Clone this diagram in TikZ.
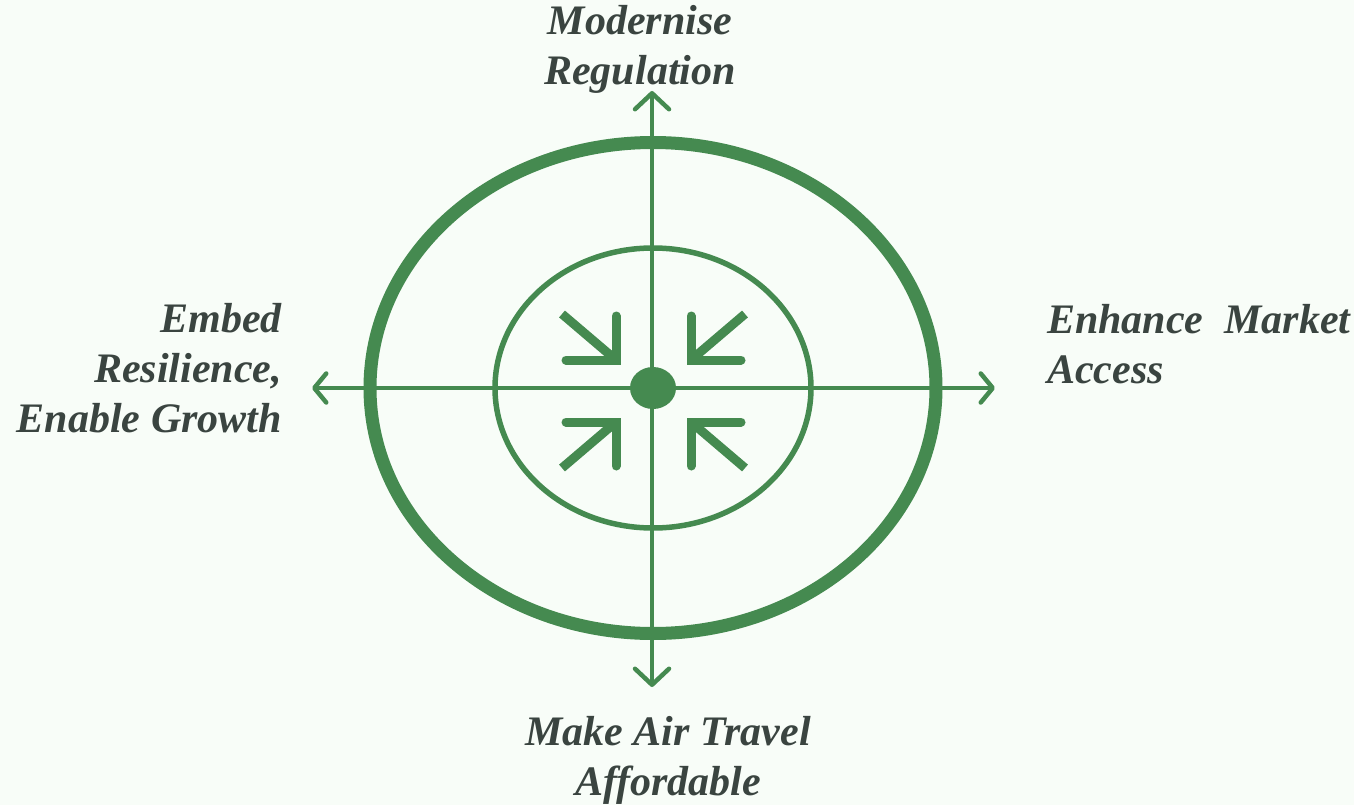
\documentclass[tikz,border=0pt]{standalone}
\usepackage{fontspec}
\setmainfont{Liberation Serif}
\usetikzlibrary{arrows.meta}
\definecolor{gr}{HTML}{458A50}
\definecolor{txt}{HTML}{3A4440}
\definecolor{bgc}{HTML}{F8FDF8}
\tikzset{
  vhead/.tip={Straight Barb[length=16pt,width=34pt,line cap=round,line join=round]},
  hhead/.tip={Straight Barb[length=12pt,width=29pt,line cap=round,line join=round]}}
\begin{document}
\begin{tikzpicture}[x=1pt,y=-1pt,
  lbl/.style={text=txt,font=\fontsize{42}{50}\selectfont\bfseries\itshape,inner sep=0pt},
  axis/.style={draw=gr,line width=4.5pt,line cap=round},
  shaft/.style={draw=gr,line width=9pt,line cap=butt},
  legs/.style={draw=gr,line width=9pt,line cap=round,line join=miter}]
\fill[bgc] (0,0) rectangle (1354,805);
\useasboundingbox (0,0) rectangle (1354,805);
\coordinate (c) at (653,388);
\coordinate (top) at (652,91);
\coordinate (bot) at (652,687);
\coordinate (lft) at (312,388);
\coordinate (rgt) at (995,388);
% ellipses
\draw[gr,line width=13pt] (c) ellipse [x radius=283pt, y radius=245.5pt];
\draw[gr,line width=5.5pt] (c) ellipse [x radius=158pt, y radius=140pt];
% axes
\draw[axis,vhead-vhead] (top) -- (bot);
\draw[axis,hhead-hhead] (lft) -- (rgt);
% center dot
\fill[gr] (c) ellipse [x radius=23pt, y radius=21pt];
% inward arrows
\draw[shaft] (562,314) -- (616,360);
\draw[legs] (616,316) -- (616,360) -- (566,360);
\draw[shaft] (745,314) -- (691,360);
\draw[legs] (691,316) -- (691,360) -- (741,360);
\draw[shaft] (562,468) -- (616,422);
\draw[legs] (616,466) -- (616,422) -- (566,422);
\draw[shaft] (745,468) -- (691,422);
\draw[legs] (691,466) -- (691,422) -- (741,422);
% labels (anchor base = baseline of last line)
\node[lbl,align=center,anchor=base] (tl) at (640,85) {Modernise\\Regulation};
\node[lbl,align=center,anchor=base] (bl) at (668,795) {Make Air Travel\\Affordable};
\node[lbl,align=right,anchor=base east] (ll) at (282,432) {Embed\\Resilience,\\Enable Growth};
\node[lbl,align=left,anchor=base west] (rl) at (1047,383) {Enhance\ \ Market\\Access};
\end{tikzpicture}
\end{document}
